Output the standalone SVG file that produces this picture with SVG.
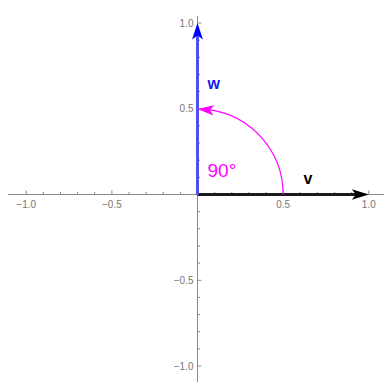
<svg xmlns="http://www.w3.org/2000/svg" width="386" height="382" viewBox="0 0 386 382">
  <style>
    .axis { stroke: #8c8c8c; stroke-width: 1; fill: none; }
    .tick { stroke: #8c8c8c; stroke-width: 1; }
    .tl { font-family: "Liberation Sans", Arial, sans-serif; font-size: 10px; fill: #777777; }
    .tlx { text-anchor: middle; }
    .tly { text-anchor: end; }
    .lbl { font-family: "Liberation Sans", Arial, sans-serif; font-weight: bold; font-size: 16px; }
  </style>
  <defs>
    <!-- arrowhead pointing +x, tip at origin -->
    <path id="head" d="M0 0 L-16.5 -5.2 L-12.5 0 L-16.5 5.2 Z"/>
  </defs>
  <rect x="0" y="0" width="386" height="382" fill="#ffffff"/>

  <g id="axes">
    <line class="axis" x1="8" y1="194.5" x2="384" y2="194.5"/>
    <line class="axis" x1="197.5" y1="16" x2="197.5" y2="382"/>
    <g id="x-ticks" class="tick">
      <line x1="26.2" y1="194.5" x2="26.2" y2="190.5"/>
      <line x1="43.3" y1="194.5" x2="43.3" y2="192"/>
      <line x1="60.5" y1="194.5" x2="60.5" y2="192"/>
      <line x1="77.6" y1="194.5" x2="77.6" y2="192"/>
      <line x1="94.7" y1="194.5" x2="94.7" y2="192"/>
      <line x1="111.9" y1="194.5" x2="111.9" y2="190.5"/>
      <line x1="129" y1="194.5" x2="129" y2="192"/>
      <line x1="146.1" y1="194.5" x2="146.1" y2="192"/>
      <line x1="163.2" y1="194.5" x2="163.2" y2="192"/>
      <line x1="180.4" y1="194.5" x2="180.4" y2="192"/>
      <line x1="214.6" y1="194.5" x2="214.6" y2="192"/>
      <line x1="231.8" y1="194.5" x2="231.8" y2="192"/>
      <line x1="248.9" y1="194.5" x2="248.9" y2="192"/>
      <line x1="266" y1="194.5" x2="266" y2="192"/>
      <line x1="283.2" y1="194.5" x2="283.2" y2="190.5"/>
      <line x1="300.3" y1="194.5" x2="300.3" y2="192"/>
      <line x1="317.4" y1="194.5" x2="317.4" y2="192"/>
      <line x1="334.5" y1="194.5" x2="334.5" y2="192"/>
      <line x1="351.7" y1="194.5" x2="351.7" y2="192"/>
      <line x1="368.8" y1="194.5" x2="368.8" y2="190.5"/>
    </g>
    <g id="y-ticks" class="tick">
      <line x1="197.5" y1="23" x2="201.5" y2="23"/>
      <line x1="197.5" y1="40.2" x2="200" y2="40.2"/>
      <line x1="197.5" y1="57.3" x2="200" y2="57.3"/>
      <line x1="197.5" y1="74.5" x2="200" y2="74.5"/>
      <line x1="197.5" y1="91.6" x2="200" y2="91.6"/>
      <line x1="197.5" y1="108.8" x2="201.5" y2="108.8"/>
      <line x1="197.5" y1="125.9" x2="200" y2="125.9"/>
      <line x1="197.5" y1="143.1" x2="200" y2="143.1"/>
      <line x1="197.5" y1="160.2" x2="200" y2="160.2"/>
      <line x1="197.5" y1="177.4" x2="200" y2="177.4"/>
      <line x1="197.5" y1="211.7" x2="200" y2="211.7"/>
      <line x1="197.5" y1="228.8" x2="200" y2="228.8"/>
      <line x1="197.5" y1="246" x2="200" y2="246"/>
      <line x1="197.5" y1="263.1" x2="200" y2="263.1"/>
      <line x1="197.5" y1="280.3" x2="201.5" y2="280.3"/>
      <line x1="197.5" y1="297.4" x2="200" y2="297.4"/>
      <line x1="197.5" y1="314.6" x2="200" y2="314.6"/>
      <line x1="197.5" y1="331.7" x2="200" y2="331.7"/>
      <line x1="197.5" y1="348.9" x2="200" y2="348.9"/>
      <line x1="197.5" y1="366" x2="201.5" y2="366"/>
    </g>
    <g id="tick-labels">
      <text class="tl tlx" x="26.2" y="208">−1.0</text>
      <text class="tl tlx" x="111.9" y="208">−0.5</text>
      <text class="tl tlx" x="283.2" y="208">0.5</text>
      <text class="tl tlx" x="368.8" y="208">1.0</text>
      <text class="tl tly" x="193.5" y="26.5">1.0</text>
      <text class="tl tly" x="193.5" y="112.3">0.5</text>
      <text class="tl tly" x="193.5" y="283.8">−0.5</text>
      <text class="tl tly" x="193.5" y="369.5">−1.0</text>
    </g>
  </g>

  <g id="connectors">
    <g id="vector-v">
      <line x1="197.5" y1="194.5" x2="356" y2="194.5" stroke="#1a1a1a" stroke-width="3"/>
      <use href="#head" transform="translate(368.8 194.5) scale(1.03 1.02)" fill="#000000"/>
    </g>
    <g id="vector-w">
      <line x1="197.5" y1="194.5" x2="197.5" y2="36" stroke="#5050ee" stroke-width="3"/>
      <use href="#head" transform="translate(197.5 23) rotate(-90) scale(1 1.05)" fill="#0000ff"/>
    </g>
    <g id="angle-arc">
      <path d="M 283.15 194.5 A 85.65 85.75 0 0 0 209 109.6" fill="none" stroke="#ff00ff" stroke-width="1.2"/>
      <use href="#head" transform="translate(197.5 109) rotate(185)" fill="#ff00ff"/>
    </g>
  </g>

  <g id="labels">
    <text class="lbl" x="207.5" y="89" fill="#1a1aee">w</text>
    <text class="lbl" x="303.5" y="183.5" fill="#000000">v</text>
    <text x="207.5" y="176.5" font-family="Liberation Sans, Arial, sans-serif" font-size="19" fill="#ff00ff">90°</text>
  </g>
</svg>
